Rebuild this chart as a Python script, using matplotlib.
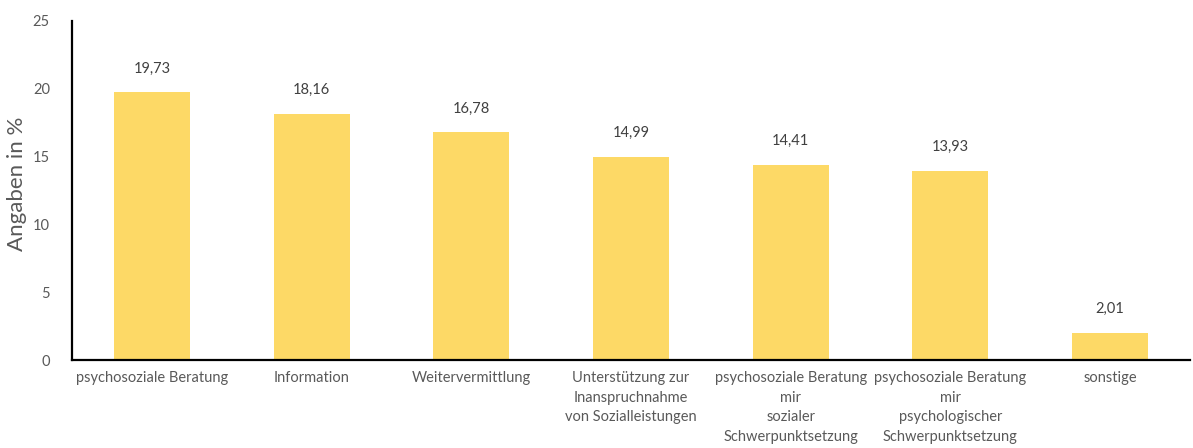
import matplotlib
matplotlib.use("Agg")
import matplotlib.pyplot as plt

plt.rcParams["font.family"] = ["Lato", "DejaVu Sans"]

categories = [
    "psychosoziale Beratung",
    "Information",
    "Weitervermittlung",
    "Unterstützung zur\nInanspruchnahme\nvon Sozialleistungen",
    "psychosoziale Beratung\nmir\nsozialer\nSchwerpunktsetzung",
    "psychosoziale Beratung\nmir\npsychologischer\nSchwerpunktsetzung",
    "sonstige",
]
values = [19.73, 18.16, 16.78, 14.99, 14.41, 13.93, 2.01]
value_labels = ["19,73", "18,16", "16,78", "14,99", "14,41", "13,93", "2,01"]

fig = plt.figure(figsize=(11.93, 4.48), dpi=100)
ax = fig.add_axes([0.0604, 0.1964, 0.937, 0.757])

x = range(len(categories))
bars = ax.bar(x, values, width=0.475, color="#FDD966")

for bar, lab in zip(bars, value_labels):
    ax.annotate(lab, (bar.get_x() + bar.get_width() / 2, bar.get_height()),
                xytext=(0, 12), textcoords="offset points",
                ha="center", va="bottom", fontsize=10.5, color="#404040")

ax.set_xlim(-0.5, len(categories) - 0.5)
ax.set_ylim(0, 25)
ax.set_yticks([0, 5, 10, 15, 20, 25])
ax.set_xticks(list(x))
ax.set_xticklabels(categories, fontsize=10.5, color="#595959", linespacing=1.5)
ax.tick_params(axis="y", labelsize=10.5, labelcolor="#595959", length=0, pad=16)
ax.tick_params(axis="x", length=0, pad=8)
ax.set_ylabel("Angaben in %", fontsize=16, color="#595959")
ax.yaxis.set_label_coords(-0.04, 0.52)

for s in ["top", "right"]:
    ax.spines[s].set_visible(False)
for s in ["left", "bottom"]:
    ax.spines[s].set_linewidth(1.6)
    ax.spines[s].set_color("black")

fig.savefig("out.png", dpi=100)
